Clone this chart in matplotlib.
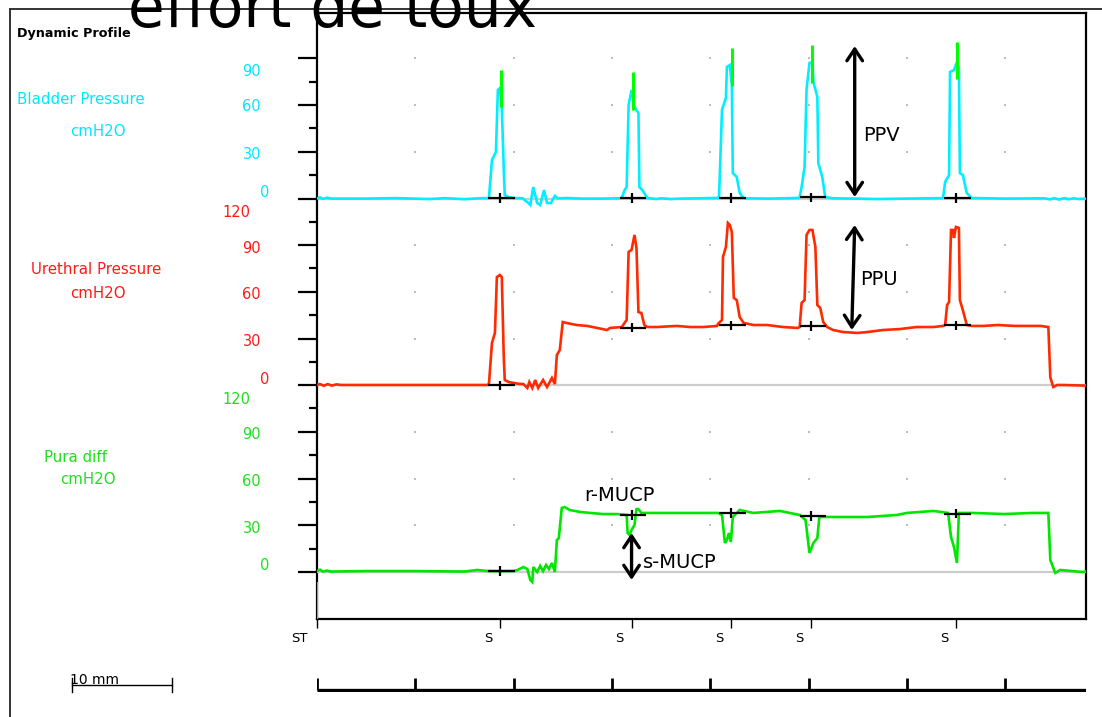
import matplotlib
matplotlib.use("Agg")
import matplotlib.pyplot as plt
from matplotlib.lines import Line2D
import numpy as np

# ---------------- data (time in mm of chart paper, pressure in cmH2O) -------------
bladder_t = [0, 0.3, 0.6, 1.0, 1.5, 5.0, 8.0, 11.5, 13.0, 15.0, 16.5, 17.4,
             17.5, 17.8, 18.2, 18.4, 18.6, 18.8, 19.0, 19.1, 19.5, 20.0, 20.9,
             21.5, 21.7, 22.0, 22.4, 22.7, 23.1, 23.4, 23.8, 24.2, 24.5, 25.5, 27.0, 29.0, 30.7,
             31.0, 31.3, 31.5, 31.7, 32.0, 32.3, 32.7, 32.8, 33.1, 33.6, 34.5, 35.0, 36.0, 37.0, 40.8,
             40.9, 41.2, 41.6, 41.7, 42.0, 42.2, 42.3, 42.7, 43.0, 43.3, 43.5, 46.0, 49.0,
             49.1, 49.3, 49.6, 49.8, 50.1, 50.4, 50.5, 50.9, 51.0, 51.4, 51.7, 52.5, 54.7, 57.0, 60.0, 63.6,
             63.7, 63.9, 64.3, 64.4, 64.8, 65.1, 65.3, 65.4, 65.7, 66.1, 66.6, 70.0, 74.0, 74.6, 75.0,
             75.5, 76.0, 76.5, 77.0, 77.5, 78.2]
bladder_p = [0, 0.8, -0.2, 0.5, 0, 0, 0.3, -0.3, 0.3, -0.4, 0.2, 0.3,
             1.0, 24.8, 29.9, 69.7, 70.9, 58.8, 18.4, 2.3, 1.0, 0.4, 0.2,
             -2.8, -4.1, 7.4, -2.8, -4.1, 5.5, -2.8, -2.8, 1.7, 0.2, 0.4, 0, 0, 0.2,
             0.4, 5.5, 7.4, 60.0, 69.7, 58.8, 54.9, 7.4, 5.5, 0.4, -0.3, 0.2, -0.3, 0, 0.4,
             1.0, 56.9, 64.6, 84.5, 85.7, 72.9, 16.4, 13.9, 3.6, 1.0, 0.2, 0, 0.4,
             1.0, 7.4, 20.3, 70.0, 87.0, 87.6, 74.8, 65.2, 22.8, 13.9, 1.0, 0.2, 0.0, -0.3, 0, 0.3,
             1.0, 10.7, 15.1, 81.3, 82.5, 87.6, 83.8, 16.4, 15.1, 3.6, 0.4, 0, 0.2, -0.5, 0.3,
             -0.6, 0.3, -0.4, 0.2, -0.3, 0]

ureth_t = [0, 0.3, 0.7, 1.1, 1.5, 2.0, 2.4, 10.0, 17.4,
           17.5, 17.8, 18.1, 18.3, 18.6, 18.8, 19.0, 19.1, 19.5, 20.0, 20.5,
           21.0, 21.4, 21.6, 21.9, 22.2, 22.5, 23.0, 23.4, 23.9, 24.2, 24.4, 24.7, 25.0, 25.4,
           26.4, 27.5, 28.5, 29.5, 29.8, 31.0,
           31.5, 31.7, 32.0, 32.3, 32.5, 32.7, 33.0, 33.3, 33.6, 34.6, 36.6, 38.0, 39.3, 40.7,
           40.8, 41.2, 41.3, 41.6, 41.8, 42.0, 42.2, 42.4, 42.7, 43.0, 43.4, 44.4, 45.8, 47.4, 48.9,
           49.1, 49.3, 49.6, 49.8, 50.1, 50.4, 50.7, 50.9, 51.2, 51.5, 51.9, 52.5, 53.5, 55.0, 56.0,
           57.6, 59.3, 61.0, 62.7, 63.7,
           63.9, 64.1, 64.3, 64.5, 64.7, 64.8, 65.0, 65.3, 65.4, 65.7, 66.1, 66.6, 67.8, 69.2, 71.0,
           73.6, 74.4, 74.6, 74.9, 75.3, 75.8, 78.2]
ureth_p = [0.2, 0.8, -0.3, 0.8, -0.2, 0.6, 0.2, 0.2, 0.2,
           1.5, 27.2, 33.6, 69.5, 70.8, 69.5, 18.2, 3.4, 2.1, 1.5, 1.0,
           0.8, -1.7, 2.1, -1.7, 3.4, -1.7, 3.4, -1.1, 4.7, 0.8, 19.4, 22.7, 40.6, 40.0,
           38.7, 38.1, 36.8, 35.5, 36.8, 37.4,
           41.9, 85.6, 86.9, 96.5, 88.2, 47.0, 46.4, 38.7, 37.4, 37.4, 38.1, 37.4, 37.4, 38.1,
           39.5, 41.9, 82.4, 88.8, 104.2, 102.9, 98.4, 56.1, 54.7, 43.8, 40.0, 38.7, 38.7, 37.4, 36.8,
           37.4, 52.9, 54.7, 96.5, 99.7, 99.7, 88.8, 51.5, 49.6, 40.6, 37.4, 35.5, 34.2, 33.6, 34.2,
           35.5, 36.1, 37.4, 37.4, 38.1,
           38.7, 51.5, 53.5, 99.7, 99.7, 94.6, 101.6, 101.0, 54.7, 48.3, 38.7, 38.1, 38.1, 38.7, 38.1,
           38.1, 37.4, 5.1, -1.1, 0.2, 0.2, -0.2]

pura_t = [0, 0.3, 0.6, 1.0, 1.4, 5.0, 10.0, 15.0, 16.3, 17.4, 20.0, 20.4,
          21.0, 21.4, 21.7, 21.9, 22.0, 22.4, 22.7, 23.0, 23.3, 23.6, 23.9, 24.2,
          24.4, 24.6, 24.9, 25.2, 25.7, 26.8, 27.8, 29.1, 30.5, 31.5,
          31.6, 31.8, 32.0, 32.3, 32.5, 32.7, 33.0, 33.9, 35.9, 39.3, 40.8, 41.2,
          41.5, 41.7, 41.9, 42.1, 42.3, 43.0, 44.4, 47.1, 48.1, 49.1,
          49.7, 50.1, 50.5, 50.9, 51.1, 51.9, 56.0, 59.0, 60.0, 62.7, 64.2,
          64.5, 64.8, 65.1, 65.2, 65.3, 66.7, 69.9, 72.8, 74.4, 74.6, 75.1, 75.6, 77.9, 78.2]
pura_p = [0.6, 1.5, 0.3, 0.9, 0.3, 0.6, 0.6, 0.3, 1.3, 0.6, 0.6, 1.3,
          3.2, 1.9, -5.1, -6.4, 3.2, 0.0, 3.9, 0.6, 4.5, 1.9, 5.8, 0.0,
          20.5, 21.8, 41.1, 41.7, 39.8, 38.5, 37.9, 37.2, 37.2, 36.6,
          25.0, 23.7, 27.0, 30.2, 40.4, 40.4, 37.9, 37.9, 37.9, 37.9, 37.9, 36.6,
          18.6, 20.5, 25.0, 19.3, 35.3, 39.8, 37.9, 39.2, 37.9, 36.6,
          33.4, 12.2, 18.6, 21.8, 35.3, 35.3, 35.3, 36.6, 37.9, 39.2, 37.9,
          22.5, 16.0, 5.8, 21.8, 37.9, 37.9, 37.2, 37.9, 37.9, 7.7, -0.6, 1.3, 0.0, 0.3]

# cough event markers ("S") and their baseline levels per channel
event_t = [18.6, 32.0, 42.1, 50.3, 65.0]
event_labels = ["S", "S", "S", "S", "S"]
bladder_mark = [0.3, 0.3, 0.3, 0.8, 0.3]
ureth_mark = [0.0, 37.0, 38.5, 38.0, 38.5]
pura_mark = [0.6, 36.6, 37.9, 36.0, 37.5]

# green peak markers on the bladder channel
peak_t = [18.7, 32.1, 42.2, 50.4, 65.1]
peak_top = [82.5, 81.1, 96.5, 98.6, 100.7]
peak_bot = [58.8, 56.9, 72.5, 74.4, 76.6]

major_ticks = [0, 30, 60, 90]
grid_x = [10, 20, 30, 40, 50, 60, 70]
scale_ticks = [0, 10, 20, 30, 40, 50, 60, 70]

# ---------------- layout ----------------
W, H = 1102, 717
fig = plt.figure(figsize=(W / 100, H / 100), dpi=100)
plt.rcParams['font.family'] = ['DejaVu Sans']


def fx(px):
    return px / W


def fy(py):
    return 1 - py / H


BOX_L, BOX_R, BOX_T, BOX_B = 317, 1086, 13, 619
PX_PER_MM = 9.83
PX_PER_UNIT = 1.558
XMAX = (BOX_R - BOX_L) / PX_PER_MM
YSPAN = (BOX_B - BOX_T) / PX_PER_UNIT

CYAN = '#00eeff'
RED = '#ff2a00'
GREEN = '#00e600'
RED_TXT = '#ff1a1a'
GREEN_TXT = '#1ee01e'
CYAN_TXT = '#00e8ff'

pos = [fx(BOX_L), fy(BOX_B), fx(BOX_R) - fx(BOX_L), (BOX_B - BOX_T) / H]
channels = [
    dict(zero=198.6, t=bladder_t, p=bladder_p, color=CYAN, tcol=CYAN_TXT, minor=[15, 45, 75],
         marks=bladder_mark,
         labels=[("90", 81.3, 261), ("60", 58.8, 261), ("30", 28.0, 261), ("0", 4.2, 269)]),
    dict(zero=385.3, t=ureth_t, p=ureth_p, color=RED, tcol=RED_TXT, minor=[15, 45, 75, 105],
         marks=ureth_mark,
         labels=[("120", 111.2, 250), ("90", 88.1, 261), ("60", 58.6, 261), ("30", 28.4, 261),
                 ("0", 4.0, 269)]),
    dict(zero=572.0, t=pura_t, p=pura_p, color=GREEN, tcol=GREEN_TXT, minor=[15, 45, 75, 105],
         marks=pura_mark,
         labels=[("120", 110.4, 250), ("90", 88.0, 261), ("60", 58.4, 261), ("30", 28.2, 261),
                 ("0", 3.9, 269)]),
]

axes = []
for i, ch in enumerate(channels):
    ax = fig.add_axes(pos, facecolor='none' if i else 'white', zorder=2 + i)
    lo = -(BOX_B - ch['zero']) / PX_PER_UNIT
    ax.set_xlim(0, XMAX)
    ax.set_ylim(lo, lo + YSPAN)
    ax.set_yticks(major_ticks)
    ax.set_yticks(ch['minor'], minor=True)
    ax.tick_params(axis='y', which='major', direction='out', length=13.7, width=1.6,
                   labelleft=False, color='black')
    ax.tick_params(axis='y', which='minor', direction='out', length=5.8, width=1.6,
                   color='black')
    if i == 2:
        ax.set_xticks([0] + event_t)
        ax.tick_params(axis='x', direction='out', length=6.5, width=1.0, labelbottom=False)
    else:
        ax.set_xticks([])
    for s in ax.spines.values():
        s.set_visible(i == 0)
        s.set_linewidth(1.6)
    # zero line
    ax.axhline(0, color='#cccccc', lw=1.6, zorder=1)
    # grid dots
    gx, gy = np.meshgrid(grid_x, [30, 60, 90])
    ax.scatter(gx.ravel(), gy.ravel(), s=2.5, color='#bdbdbd', marker='s', lw=0, zorder=1)
    # trace
    ax.plot(ch['t'], ch['p'], color=ch['color'], lw=1.9, zorder=3, solid_joinstyle='miter')
    # event markers
    m = np.array(ch['marks'])
    et = np.array(event_t)
    ax.hlines(m, et - 1.2, et + 1.5, color='black', lw=1.6, zorder=5)
    ax.vlines(et, m - 3.0, m + 3.0, color='black', lw=1.6, zorder=5)
    # tick labels (placed as in the reference software)
    ytr = ax.get_yaxis_transform()
    for txt, yv, rpx in ch['labels']:
        ax.text((rpx - BOX_L) / (BOX_R - BOX_L), yv, txt, transform=ytr, ha='right', va='center',
                color=ch['tcol'], fontsize=10.5, clip_on=False)
    axes.append(ax)

ax_b, ax_u, ax_p = axes

# green peak markers
ax_b.vlines(peak_t, peak_bot, peak_top, color='#00ff00', lw=2.2, zorder=4)

# ST marker line
ax_p.vlines([0], -30.2, -6.4, color='#999999', lw=1.6, zorder=4)

# event labels below the box
xtr = ax_p.get_xaxis_transform()
ax_p.text(-1.8, -0.033, "ST", transform=xtr, ha='center', va='center', fontsize=9.5)
for t, lab in zip(event_t, event_labels):
    ax_p.text(t - 1.2, -0.033, lab, transform=xtr, ha='center', va='center', fontsize=9.5)

# annotation arrows
arrow = dict(arrowstyle='<->,head_length=0.6,head_width=0.4', lw=2.4, color='black',
             shrinkA=0, shrinkB=0, mutation_scale=14)
ax_b.annotate('', xy=(54.7, 97.9), xytext=(54.7, 1.0), arrowprops=arrow, zorder=6)
ax_b.text(55.6, 40.2, "PPV", fontsize=14, va='center', ha='left')
ax_u.annotate('', xy=(54.7, 102.9), xytext=(54.4, 35.5), arrowprops=arrow, zorder=6)
ax_u.text(55.3, 67.6, "PPU", fontsize=14, va='center', ha='left')
ax_p.annotate('', xy=(32.0, 25.0), xytext=(32.0, -5.1), arrowprops=arrow, zorder=6)
ax_p.text(33.2, 5.8, "s-MUCP", fontsize=14, va='center', ha='left')
ax_p.text(27.2, 49.4, "r-MUCP", fontsize=14, va='center', ha='left')

# bottom paper scale
ax_s = fig.add_axes([fx(BOX_L), fy(692), fx(BOX_R) - fx(BOX_L), (692 - 676) / H], facecolor='none')
ax_s.set_xlim(0, XMAX)
ax_s.set_ylim(0, 1)
ax_s.axis('off')
ax_s.plot([0, XMAX], [0.1, 0.1], color='black', lw=2.4, solid_capstyle='butt')
ax_s.vlines(scale_ticks, 0.1, 0.85, color='black', lw=2.0)

# 10 mm scale bar (left)
fig.add_artist(Line2D([fx(72), fx(172)], [fy(685), fy(685)], color='black', lw=1.0))
fig.add_artist(Line2D([fx(72), fx(72)], [fy(678), fy(692)], color='black', lw=1.0))
fig.add_artist(Line2D([fx(172), fx(172)], [fy(678), fy(692)], color='black', lw=1.0))
fig.text(fx(70), fy(684), "10 mm", fontsize=10, ha='left', va='baseline')

# outer frame
fig.add_artist(Line2D([fx(10), fx(10)], [fy(9), 0], color='#333333', lw=1.4))
fig.add_artist(Line2D([fx(10), 1], [fy(9), fy(9)], color='#333333', lw=1.4))

# left labels
fig.text(fx(17), fy(33), "Dynamic Profile", fontsize=9.2, fontweight='bold', va='center')
fig.text(fx(17), fy(100), "Bladder Pressure", fontsize=10.8, color=CYAN_TXT, va='center')
fig.text(fx(70), fy(131), "cmH2O", fontsize=10.8, color=CYAN_TXT, va='center')
fig.text(fx(31), fy(270), "Urethral Pressure", fontsize=10.8, color=RED_TXT, va='center')
fig.text(fx(70), fy(293), "cmH2O", fontsize=10.8, color=RED_TXT, va='center')
fig.text(fx(44), fy(457), "Pura diff", fontsize=10.8, color=GREEN_TXT, va='center')
fig.text(fx(60), fy(480), "cmH2O", fontsize=10.8, color=GREEN_TXT, va='center')

# title (cut off at the top, as in the reference)
fig.text(fx(128), fy(27), "effort de toux", fontsize=43, ha='left', va='baseline', zorder=10)

fig.savefig("out.png", dpi=100)
